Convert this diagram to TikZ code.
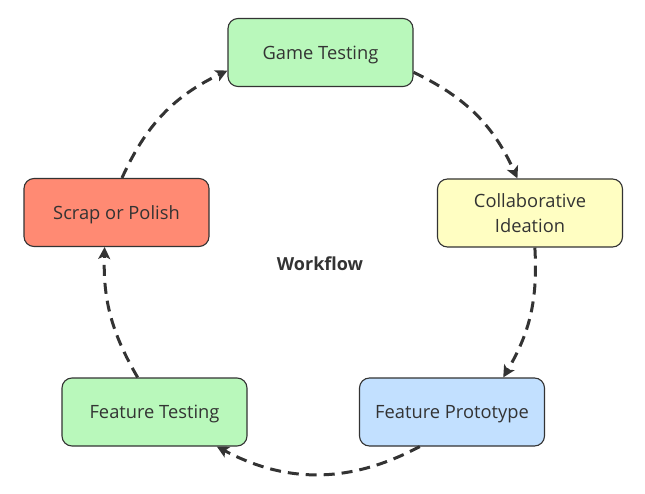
\documentclass[tikz,border=0pt]{standalone}
\usepackage{fontspec}
\setmainfont{Open Sans}
\usetikzlibrary{arrows.meta}
\definecolor{ink}{HTML}{333333}
\definecolor{testgreen}{HTML}{B9F8BB}
\definecolor{ideayellow}{HTML}{FFFEC2}
\definecolor{protoblue}{HTML}{C2E0FF}
\definecolor{scrapred}{HTML}{FF8A73}

\begin{document}
\begin{tikzpicture}[x=1pt,y=1pt]
\useasboundingbox (0,0) rectangle (645,493);
\begin{scope}[every node/.style={rectangle,rounded corners=10pt,draw=ink,line width=1.1pt,
              minimum width=185pt,minimum height=68pt,text=ink,align=center,text depth=0pt,
              font=\fontsize{18.3}{24.5}\selectfont}]
    \node[fill=testgreen]  (GT) at (320.5,440.5) {Game Testing};
    \node[fill=ideayellow] (CI) at (530,280) {Collaborative\\Ideation};
    \node[fill=protoblue]  (FP) at (452,81) {Feature Prototype};
    \node[fill=testgreen]  (FT) at (154.5,81) {Feature Testing};
    \node[fill=scrapred]   (SP) at (116.5,280.5) {Scrap or Polish};
\end{scope}

\node[text=ink,font=\fontsize{18}{22}\selectfont\bfseries] (WF) at (320,229) {Workflow};

\begin{scope}[
              every edge/.style={draw=ink,line width=3pt,dash pattern=on 11pt off 7pt,
                                 -{Stealth[length=12pt,width=12pt,inset=3pt]}}]
    \path  (GT.-12)  edge[bend left=20] (CI.110);
    \path  (CI.-82)  edge[bend left=17] (FP.34);
    \path  (FP.-133) edge[bend left=28] (FT.-29);
    \path  (FT.116)  edge[bend left=16] (SP.-109);
    \path  (SP.81)   edge[bend left=20] (GT.191);
\end{scope}
\end{tikzpicture}
\end{document}
